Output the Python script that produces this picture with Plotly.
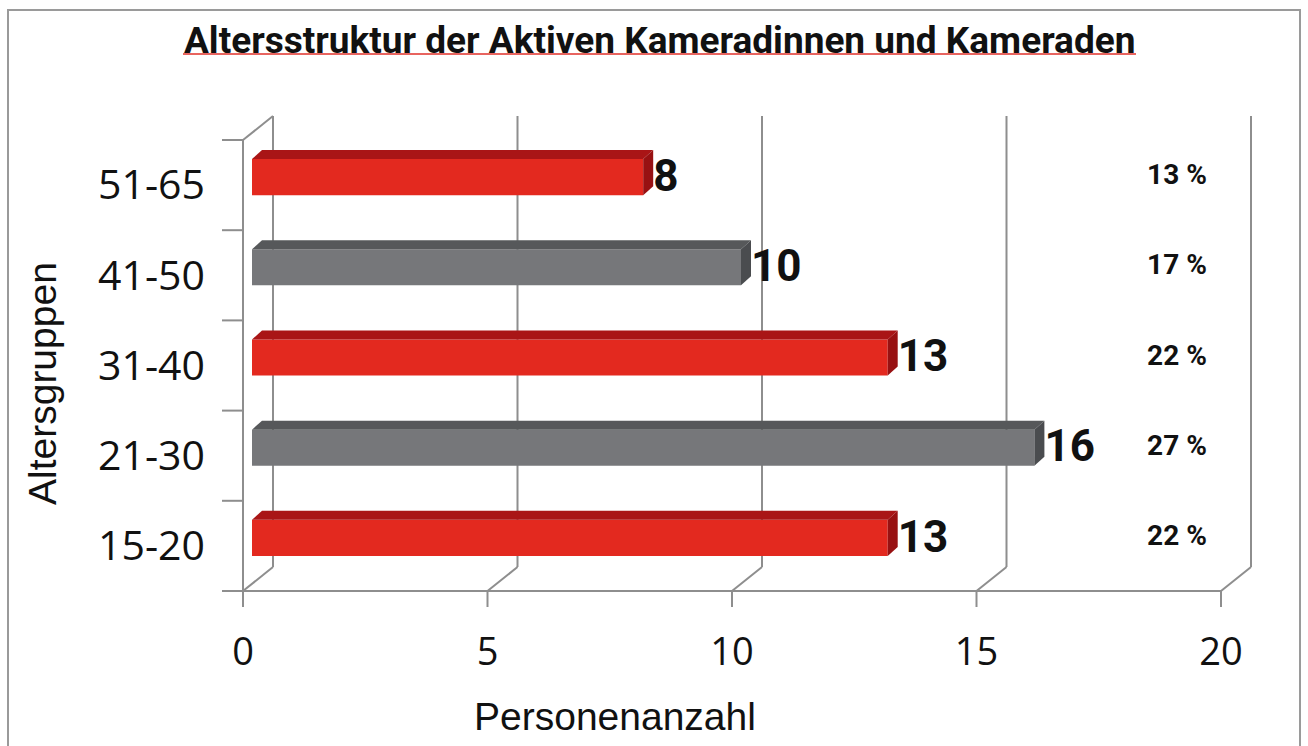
import plotly.graph_objects as go

# ---------------- data ----------------
categories = ["15-20", "21-30", "31-40", "41-50", "51-65"]
values = [13, 16, 13, 10, 8]
percent_labels = ["22 %", "27 %", "22 %", "17 %", "13 %"]
x_ticks = [0, 5, 10, 15, 20]

# ---------------- style ----------------
front_colors = ["#E3291F", "#76777A", "#E3291F", "#76777A", "#E3291F"]
top_colors = ["#A91516", "#56585A", "#A91516", "#56585A", "#A91516"]
side_colors = ["#981112", "#4A4C4F", "#981112", "#4A4C4F", "#981112"]
GRID = "#8E8E8E"
BOLDF = "Roboto, Liberation Sans, sans-serif"
CAL = "Open Sans, sans-serif"
ARIAL = "Liberation Sans, Arial, sans-serif"

W, H = 1308, 746
L, R, T, B = 214, 48, 108, 132
X0PX, X20PX = 243, 1221
YTOPPX, YBOTPX = 140, 591
PXX = (X20PX - X0PX) / 20.0
PXY = (YBOTPX - YTOPPX) / 5.0
xrange = [-(X0PX - L) / PXX, 20 + (W - R - X20PX) / PXX]
yrange = [-0.5 - (H - B - YBOTPX) / PXY, 4.5 + (YTOPPX - T) / PXY]

# 3D depth of walls and bars (in axis units)
WDX, WDY = 30 / PXX, 24 / PXY
BDX, BDY = 10 / PXX, 9 / PXY
BASE_X = 9 / PXX
SHIFT_Y = 8 / PXY
BAR_W = 0.40


def px2paper_x(px):
    return (px - L) / (W - L - R)


def px2paper_y(py):
    return (H - B - py) / (H - T - B)


shapes = []


def line(x0, y0, x1, y1, color=GRID, width=2, layer="below"):
    shapes.append(dict(type="line", xref="x", yref="y", x0=x0, y0=y0, x1=x1, y1=y1,
                       line=dict(color=color, width=width), layer=layer))


# left wall front edge and top diagonal
line(0, -0.5, 0, 4.5)
line(0, 4.5, WDX, 4.5 + WDY)
# floor front
line(0, -0.5, 20, -0.5)
# back wall gridlines + floor diagonals + ticks below floor
for t in x_ticks:
    line(t, -0.5, t + WDX, -0.5 + WDY)
    line(t + WDX, -0.5 + WDY, t + WDX, 4.5 + WDY)
    line(t, -0.5, t, -0.5 - 16 / PXY)
# category boundary ticks on the left
for i in range(len(categories) + 1):
    line(-21 / PXX, i - 0.5, 0, i - 0.5)

# bar 3D faces
ys = [i + SHIFT_Y for i in range(len(categories))]
for i, v in enumerate(values):
    xs, xe = BASE_X, BASE_X + v
    yt, yb = ys[i] + BAR_W / 2, ys[i] - BAR_W / 2
    top = f"M {xs},{yt} L {xe},{yt} L {xe + BDX},{yt + BDY} L {xs + BDX},{yt + BDY} Z"
    side = f"M {xe},{yt} L {xe + BDX},{yt + BDY} L {xe + BDX},{yb + BDY} L {xe},{yb} Z"
    shapes.append(dict(type="path", xref="x", yref="y", path=top, fillcolor=top_colors[i],
                       line=dict(width=0), layer="above"))
    shapes.append(dict(type="path", xref="x", yref="y", path=side, fillcolor=side_colors[i],
                       line=dict(width=0), layer="above"))

# outer frame
shapes.append(dict(type="rect", xref="paper", yref="paper",
                   x0=px2paper_x(8), x1=px2paper_x(1300), y0=px2paper_y(770), y1=px2paper_y(10),
                   line=dict(color="#9A9A9A", width=2), fillcolor="rgba(0,0,0,0)"))
# red underline of title
shapes.append(dict(type="line", xref="paper", yref="paper",
                   x0=px2paper_x(183), x1=px2paper_x(1136), y0=px2paper_y(54), y1=px2paper_y(54),
                   line=dict(color="#E0302A", width=1.5)))

fig = go.Figure()
fig.add_trace(go.Bar(
    y=ys, x=values, base=BASE_X, orientation="h", width=BAR_W,
    marker=dict(color=front_colors, line=dict(width=0)), hoverinfo="skip",
))
fig.add_trace(go.Scatter(
    x=[BASE_X + v + BDX for v in values], y=[y - 0.03 for y in ys],
    text=[str(v) for v in values], mode="text", textposition="middle right",
    textfont=dict(family=BOLDF, size=44, color="#111111", weight="bold"), cliponaxis=False,
    hoverinfo="skip",
))
fig.add_trace(go.Scatter(
    x=[19.1] * len(values), y=ys, text=percent_labels, mode="text", textposition="middle center",
    textfont=dict(family=BOLDF, size=28, color="#111111", weight="bold"), cliponaxis=False,
    hoverinfo="skip",
))

annotations = [
    dict(text="<b>Altersstruktur der Aktiven Kameradinnen und Kameraden</b>", xref="paper", yref="paper",
         x=px2paper_x(659), y=px2paper_y(40), showarrow=False, xanchor="center", yanchor="middle",
         font=dict(family=BOLDF, size=37, color="#111111")),
    dict(text="Altersgruppen", xref="paper", yref="paper", x=px2paper_x(42), y=px2paper_y(384),
         showarrow=False, textangle=-90, xanchor="center", yanchor="middle",
         font=dict(family=ARIAL, size=39, color="#111111")),
    dict(text="Personenanzahl", xref="paper", yref="paper", x=px2paper_x(615), y=px2paper_y(716),
         showarrow=False, xanchor="center", yanchor="middle",
         font=dict(family=ARIAL, size=39, color="#111111")),
]

fig.update_layout(
    width=W, height=H, margin=dict(l=L, r=R, t=T, b=B),
    paper_bgcolor="white", plot_bgcolor="white", showlegend=False,
    shapes=shapes, annotations=annotations,
    xaxis=dict(range=xrange, tickvals=x_ticks, ticktext=[str(t) for t in x_ticks], ticks="",
               showgrid=False, zeroline=False, showline=False,
               tickfont=dict(family=CAL, size=38, color="#111111"), ticklabelstandoff=12),
    yaxis=dict(range=yrange, tickvals=list(range(len(categories))), ticktext=categories, ticks="",
               showgrid=False, zeroline=False, showline=False,
               tickfont=dict(family=CAL, size=41, color="#111111"), ticklabelstandoff=8),
)

fig.write_html("out.html", config={"displayModeBar": False},
               post_script="document.body.style.margin='0';document.body.style.overflow='hidden';")
